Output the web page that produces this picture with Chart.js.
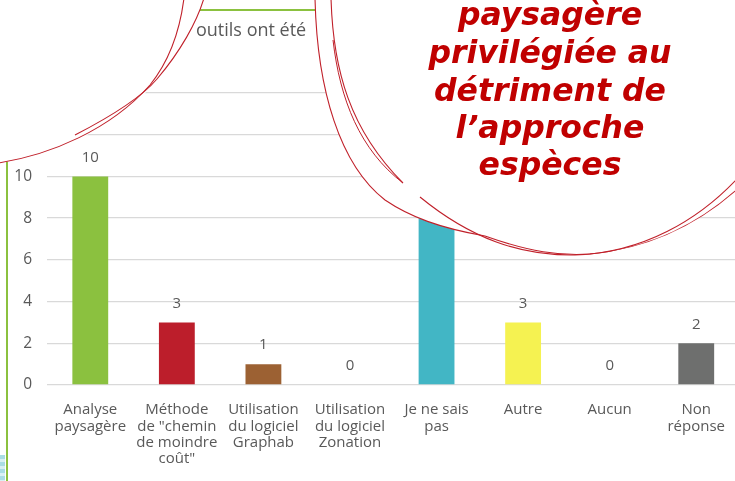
<!DOCTYPE html>
<html>
<head>
<meta charset="utf-8">
<script src="https://cdn.jsdelivr.net/npm/chart.js@4.4.0/dist/chart.umd.min.js"></script>
<style>
  html, body { margin:0; padding:0; width:735px; height:481px; overflow:hidden; background:#fff; }
  #wrap { position:absolute; left:0; top:0; width:742px; height:481px; }
  .gl { position:absolute; background:#8BC13F; }
  #title { position:absolute; left:196px; top:17px; font-family:"Open Sans"; font-size:18px; color:#595959; white-space:nowrap; }
  #deco { position:absolute; left:0; top:0; width:735px; height:481px; }
  #blue { position:absolute; left:0; top:455px; width:5px; height:26px;
    background:repeating-linear-gradient(180deg,#a9dde4 0 4px,#d8f0f3 4px 7px); }
</style>
</head>
<body>
<div id="wrap"><canvas id="c" width="742" height="481"></canvas></div>
<div class="gl" style="left:6px;top:150px;width:2px;height:331px;"></div>
<div class="gl" style="left:190px;top:9px;width:140px;height:2px;"></div>
<div id="blue"></div>
<div id="title">outils ont été</div>
<svg id="deco" width="735" height="481" viewBox="0 0 735 481">
  <!-- left bubble -->
  <path d="M-5,-5 L-5,164 L0,163 C50,155 110,132 150,88 C160,76 172,55 178,30 C190,40 200,15 204,-5 Z" fill="#fff"/>
  <path d="M-2,163 C50,155 110,130 150,85 C170,60 180,30 184,-2" fill="none" stroke="#C0202A" stroke-width="1.1"/>
  <path d="M75,135 C110,117 140,99 157,79 C180,52 197,22 204,-2" fill="none" stroke="#C0202A" stroke-width="1.1"/>
  <!-- right bubble -->
  <path d="M315,-5 C317,90 340,165 385,200 C410,217 440,228 485,236 C530,252 560,256 590,254 C650,248 700,225 745,182 L745,-5 Z" fill="#fff"/>
  <path d="M315,-2 C317,90 340,165 385,200 C410,217 440,228 485,236" fill="none" stroke="#C0202A" stroke-width="1.1"/>
  <path d="M331,-2 C333,70 350,130 403,183" fill="none" stroke="#C0202A" stroke-width="1.1"/>
  <path d="M333,40 C340,100 360,150 403,183" fill="none" stroke="#C0202A" stroke-width="1"/>
  <path d="M420,197 C470,238 520,256 575,255 C640,253 700,222 745,170" fill="none" stroke="#C0202A" stroke-width="1.1"/>
  <path d="M485,236 C530,252 560,256 590,254 C650,248 700,225 745,182" fill="none" stroke="#C0202A" stroke-width="1.1"/>
  <g font-family="DejaVu Sans" font-weight="bold" font-style="italic" font-size="31.5" fill="#C00000" text-anchor="middle">
    <text x="550" y="25">paysagère</text>
    <text x="550" y="63">privilégiée au</text>
    <text x="550" y="101">détriment de</text>
    <text x="550" y="138">l’approche</text>
    <text x="550" y="175">espèces</text>
  </g>
</svg>
<script>
const categories = [
  ["Analyse", "paysagère"],
  ["Méthode", "de \"chemin", "de moindre", "coût\""],
  ["Utilisation", "du logiciel", "Graphab"],
  ["Utilisation", "du logiciel", "Zonation"],
  ["Je ne sais", "pas"],
  ["Autre"],
  ["Aucun"],
  ["Non", "réponse"]
];
const values = [10, 3, 1, 0, 8, 3, 0, 2];
const barColors = ["#8BC13F", "#BC1E2B", "#9C6133", "#7F7F7F", "#42B6C5", "#F5F251", "#A5A5A5", "#6E6F6E"];
const yTicks = [0, 2, 4, 6, 8, 10, 12, 14];

const labelPlugin = {
  id: "vlabels",
  afterDatasetsDraw(chart) {
    const ctx = chart.ctx;
    const meta = chart.getDatasetMeta(0);
    ctx.save();
    ctx.font = "15px 'Open Sans'";
    ctx.fillStyle = "#595959";
    ctx.textAlign = "center";
    ctx.textBaseline = "middle";
    meta.data.forEach((bar, i) => {
      ctx.fillText(String(values[i]), bar.x, bar.y - 19);
    });
    ctx.restore();
  }
};

new Chart(document.getElementById("c"), {
  type: "bar",
  data: {
    labels: categories,
    datasets: [{
      data: values,
      backgroundColor: barColors,
      borderWidth: 0,
      categoryPercentage: 1,
      barPercentage: 0.414
    }]
  },
  options: {
    responsive: false,
    animation: false,
    layout: { padding: { top: 93, left: 0, right: 0, bottom: 0 } },
    plugins: { legend: { display: false }, tooltip: { enabled: false } },
    scales: {
      x: {
        grid: { display: false, drawTicks: false },
        border: { display: false },
        ticks: {
          color: "#595959",
          font: { family: "Open Sans", size: 15, lineHeight: 1.09 },
          padding: 17,
          maxRotation: 0,
          autoSkip: false
        },
        afterFit(s) { s.height = 96; }
      },
      y: {
        min: 0, max: 14,
        afterBuildTicks(s) { s.ticks = yTicks.map(v => ({ value: v })); },
        grid: { color: "#D9D9D9", lineWidth: 1.3, drawTicks: false },
        border: { display: false },
        ticks: {
          color: "#595959",
          font: { family: "Open Sans", size: 15.5 },
          padding: 15
        },
        afterFit(s) { s.width = 47; }
      }
    }
  },
  plugins: [labelPlugin]
});
</script>
</body>
</html>
